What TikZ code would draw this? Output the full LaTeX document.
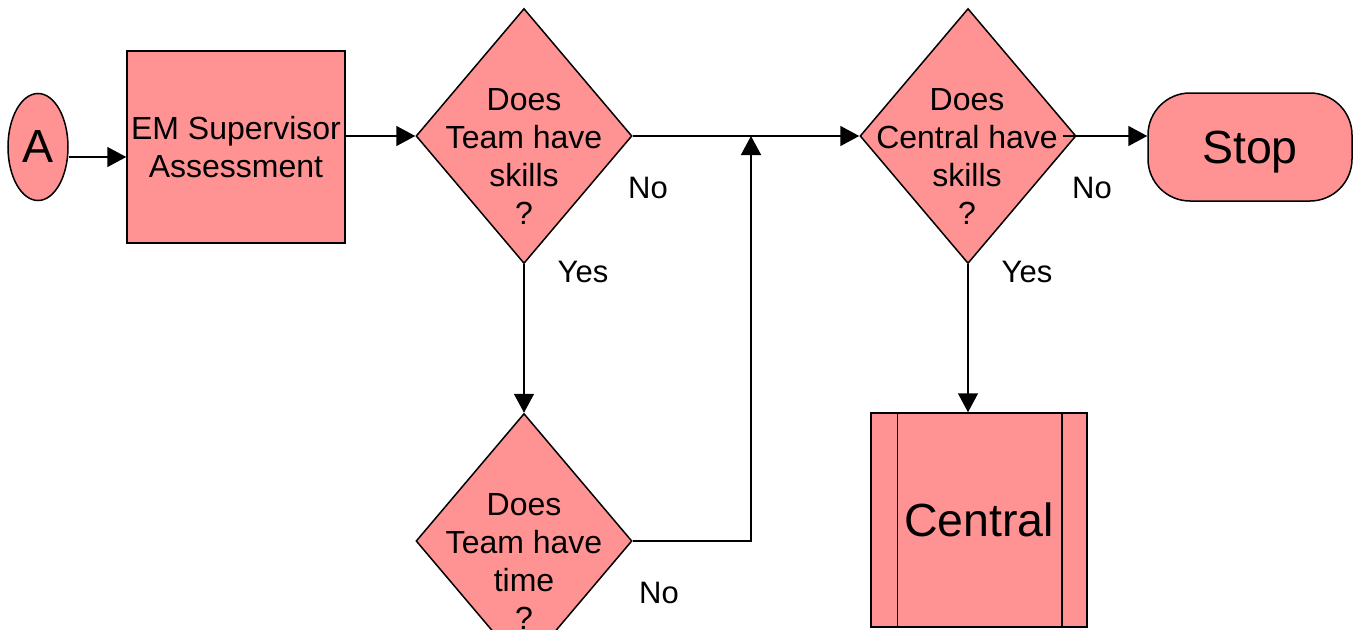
\documentclass[tikz,border=0pt]{standalone}
\usepackage{fontspec}
\setmainfont{Liberation Sans}
\usetikzlibrary{shapes.geometric,arrows.meta}
\definecolor{boxfill}{RGB}{255,147,147}
\begin{document}
\begin{tikzpicture}[x=1pt,y=-1pt,
  shapeline/.style={draw=black,line width=1.5pt,fill=boxfill},
  flow/.style={line width=1.5pt,-{Triangle[length=19pt,width=20pt]}},
  link/.style={line width=1.5pt},
  decision/.style={shapeline,diamond,minimum width=216pt,minimum height=255pt,inner sep=0pt},
  txt/.style={font=\fontsize{32}{38}\selectfont,align=center,inner sep=0pt},
  bigtxt/.style={font=\fontsize{46.5}{54}\selectfont,inner sep=0pt},
  lbl/.style={font=\fontsize{31}{36}\selectfont,inner sep=0pt},
]
\useasboundingbox[fill=white] (0,0) rectangle (1357,629);
\clip (0,0) rectangle (1357,629);

% shapes
\node[shapeline,ellipse,minimum width=60pt,minimum height=107pt,bigtxt] (a) at (38,147) {A};
\node[shapeline,rectangle,minimum width=218pt,minimum height=192pt,txt] (em) at (236,147) {EM Supervisor\\Assessment};

\node[decision] (d1) at (524,136) {};
\node[txt] (t1) at (524,156) {Does\\Team have\\skills\\?};

\node[decision] (d3) at (524,541) {};
\node[txt] (t3) at (524,561) {Does\\Team have\\time\\?};

\node[decision] (d2) at (968,136) {};
\node[txt] (t2) at (967,156) {Does\\Central have\\skills\\?};

\node[shapeline,rectangle,rounded corners=42pt,minimum width=204pt,minimum height=108pt,bigtxt,text depth=0pt] (stop) at (1250,147) {Stop};

\node[shapeline,rectangle,minimum width=216pt,minimum height=214pt,bigtxt] (central) at (979,520) {Central};
\draw[link] ([xshift=27pt]central.north west) -- ([xshift=27pt]central.south west);
\draw[link] ([xshift=-26pt]central.north east) -- ([xshift=-26pt]central.south east);

% branch labels
\node[lbl] (n1) at (648,188) {No};
\node[lbl] (y1) at (583,272) {Yes};
\node[lbl] (n3) at (659,593) {No};
\node[lbl] (n2) at (1092,188) {No};
\node[lbl] (y2) at (1027,272) {Yes};

% connectors
\coordinate (jb) at (751,541);
\coordinate (jt) at (751,136);
\draw[flow] ([yshift=-10pt]a.east) -- ([yshift=-10pt]em.west);
\draw[flow] (em.east |- d1.west) -- (d1.west);
\draw[flow] (d1.east) -- (d2.west);
\draw[flow] (d1.south) -- (d3.north);
\draw[flow] (d3.east) -- (jb) -- (jt);
\draw[flow] ([xshift=-14pt]d2.east) -- (stop.west |- d2.east);
\draw[flow] (d2.south) -- (d2.south |- central.north);
\end{tikzpicture}
\end{document}
